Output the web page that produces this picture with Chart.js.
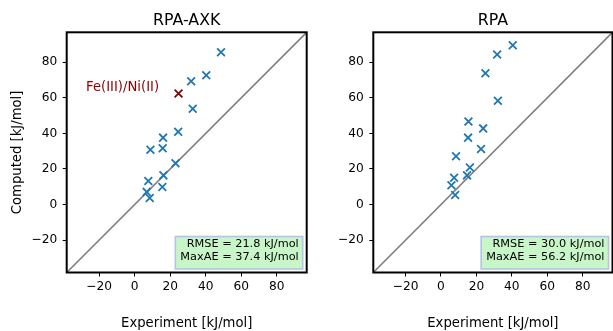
<!DOCTYPE html>
<html>
<head>
<meta charset="utf-8">
<script src="https://cdn.jsdelivr.net/npm/chart.js@4.4.1/dist/chart.umd.min.js"></script>
<style>
  html, body { margin: 0; padding: 0; background: #fff; }
  #wrap { position: relative; width: 613px; height: 331px; }
  #axk { position: absolute; left: 0; top: 0; }
  #rpa { position: absolute; left: 310px; top: 0; }
</style>
</head>
<body>
<div id="wrap">
  <canvas id="axk" width="310" height="331"></canvas>
  <canvas id="rpa" width="303" height="331"></canvas>
</div>
<script>
// experiment vs computed, kJ/mol
const axkExp  = [48.6, 40.3, 31.8, 32.7, 24.5, 16.0, 15.8, 8.9, 23.0, 16.2, 7.7, 15.6, 6.8, 8.5];
const axkCalc = [85.6, 72.7, 69.3, 53.8, 40.9, 37.6, 31.6, 30.8, 23.2, 16.4, 13.2, 9.9, 7.1, 3.7];

// the Fe(III)/Ni(II) outlier
const axkOutlierExp  = [24.7];
const axkOutlierCalc = [62.4];

const rpaExp  = [40.5, 31.7, 25.1, 32.1, 15.5, 23.8, 15.3, 22.6, 8.5, 16.3, 14.7, 7.4, 5.9, 8.0];
const rpaCalc = [89.5, 84.3, 73.8, 58.3, 46.7, 42.8, 37.6, 31.2, 27.1, 20.8, 16.4, 15.1, 10.8, 5.4];

const tickValues = [-20, 0, 20, 40, 60, 80];
const axisMin = -38.2;
const axisMax = 96.8;

const axkStats = ['RMSE = 21.8 kJ/mol', 'MaxAE = 37.4 kJ/mol'];
const rpaStats = ['RMSE = 30.0 kJ/mol', 'MaxAE = 56.2 kJ/mol'];

const fontFamily = '"DejaVu Sans", sans-serif';

function toPoints(xs, ys) {
  return xs.map((x, i) => ({ x: x, y: ys[i] }));
}

function tickLabel(value) {
  return value < 0 ? '\u2212' + Math.abs(value) : String(value);
}

const panelDecor = {
  id: 'panelDecor',
  afterDraw(chart, args, opts) {
    const ctx = chart.ctx;
    const area = chart.chartArea;

    // stats box, bottom right
    ctx.save();
    ctx.font = '11.3px ' + fontFamily;
    const textWidth = Math.max(...opts.stats.map((s) => ctx.measureText(s).width));
    const boxRight = area.right - 4;
    const boxBottom = area.bottom - 3.5;
    const boxW = textWidth + 9;
    const boxH = 32.5;
    ctx.fillStyle = '#c9f6c9';
    ctx.fillRect(boxRight - boxW, boxBottom - boxH, boxW, boxH);
    ctx.strokeStyle = '#b3c3ea';
    ctx.lineWidth = 1.6;
    ctx.strokeRect(boxRight - boxW, boxBottom - boxH, boxW, boxH);
    ctx.fillStyle = '#000';
    ctx.textAlign = 'right';
    ctx.textBaseline = 'middle';
    ctx.fillText(opts.stats[0], boxRight - 4, boxBottom - boxH + 8);
    ctx.fillText(opts.stats[1], boxRight - 4, boxBottom - boxH + 20.5);
    ctx.restore();

    // frame
    ctx.save();
    ctx.strokeStyle = '#000';
    ctx.lineWidth = 2;
    ctx.strokeRect(area.left, area.top, area.right - area.left, area.bottom - area.top);
    ctx.restore();

    // title over the plot area
    ctx.save();
    ctx.font = '15.8px ' + fontFamily;
    ctx.fillStyle = '#000';
    ctx.textAlign = 'center';
    ctx.textBaseline = 'middle';
    ctx.fillText(opts.title, (area.left + area.right) / 2, 20.7);
    ctx.restore();

    // label next to the outlier
    if (opts.note) {
      const xs = chart.scales.x;
      const ys = chart.scales.y;
      ctx.save();
      ctx.font = '13.2px ' + fontFamily;
      ctx.fillStyle = '#8b0000';
      ctx.textAlign = 'left';
      ctx.textBaseline = 'middle';
      ctx.fillText(opts.note.text, xs.getPixelForValue(opts.note.x), ys.getPixelForValue(opts.note.y));
      ctx.restore();
    }
  }
};

function drawPanel(canvasId, title, datasets, yTitle, yWidth, padRight, stats, note) {
  const tickFont = { family: fontFamily, size: 12.2 };
  const labelFont = { family: fontFamily, size: 13.2 };
  const gridTicks = {
    display: true,
    drawOnChartArea: false,
    drawTicks: true,
    tickLength: 4,
    tickWidth: 1,
    tickColor: '#000'
  };

  datasets.push({
    label: 'y = x',
    data: [{ x: axisMin, y: axisMin }, { x: axisMax, y: axisMax }],
    showLine: true,
    borderColor: '#7f7f7f',
    borderWidth: 1.6,
    pointRadius: 0
  });

  new Chart(document.getElementById(canvasId), {
    type: 'scatter',
    data: { datasets: datasets },
    options: {
      responsive: false,
      animation: false,
      layout: {
        autoPadding: false,
        padding: { top: 32.3, right: padRight, bottom: 0, left: 0 }
      },
      scales: {
        x: {
          type: 'linear',
          min: axisMin,
          max: axisMax,
          afterBuildTicks: (scale) => { scale.ticks = tickValues.map((v) => ({ value: v })); },
          afterFit: (scale) => {
            scale.height = 58.5;
            scale.paddingLeft = 0;
            scale.paddingRight = 0;
          },
          grid: gridTicks,
          border: { display: false },
          ticks: { color: '#000', font: tickFont, padding: 3.2, callback: tickLabel },
          title: {
            display: true,
            text: 'Experiment [kJ/mol]',
            color: '#000',
            font: labelFont,
            padding: { top: 0, bottom: 0 }
          }
        },
        y: {
          type: 'linear',
          min: axisMin,
          max: axisMax,
          afterBuildTicks: (scale) => { scale.ticks = tickValues.map((v) => ({ value: v })); },
          afterFit: (scale) => {
            scale.width = yWidth;
            scale.paddingTop = 0;
            scale.paddingBottom = 0;
          },
          grid: gridTicks,
          border: { display: false },
          ticks: { color: '#000', font: tickFont, padding: 5.5, callback: tickLabel },
          title: {
            display: yTitle !== '',
            text: yTitle,
            color: '#000',
            font: labelFont,
            padding: { top: 9.6, bottom: 0 }
          }
        }
      },
      plugins: {
        legend: { display: false },
        tooltip: { enabled: false },
        panelDecor: { title: title, stats: stats, note: note }
      }
    },
    plugins: [panelDecor]
  });
}

drawPanel('axk', 'RPA-AXK', [
  {
    label: 'RPA-AXK',
    data: toPoints(axkExp, axkCalc),
    pointStyle: 'crossRot',
    pointRadius: 5.5,
    borderColor: '#1f77b4',
    borderWidth: 1.8
  },
  {
    label: 'Fe(III)/Ni(II)',
    data: toPoints(axkOutlierExp, axkOutlierCalc),
    pointStyle: 'crossRot',
    pointRadius: 5.5,
    borderColor: '#8b0000',
    borderWidth: 1.8
  }
], 'Computed [kJ/mol]', 66.7, 3.3, axkStats, { text: 'Fe(III)/Ni(II)', x: -27.3, y: 65.8 });

drawPanel('rpa', 'RPA', [
  {
    label: 'RPA',
    data: toPoints(rpaExp, rpaCalc),
    pointStyle: 'crossRot',
    pointRadius: 5.5,
    borderColor: '#1f77b4',
    borderWidth: 1.8
  }
], '', 63.3, 0.5, rpaStats, null);
</script>
</body>
</html>
